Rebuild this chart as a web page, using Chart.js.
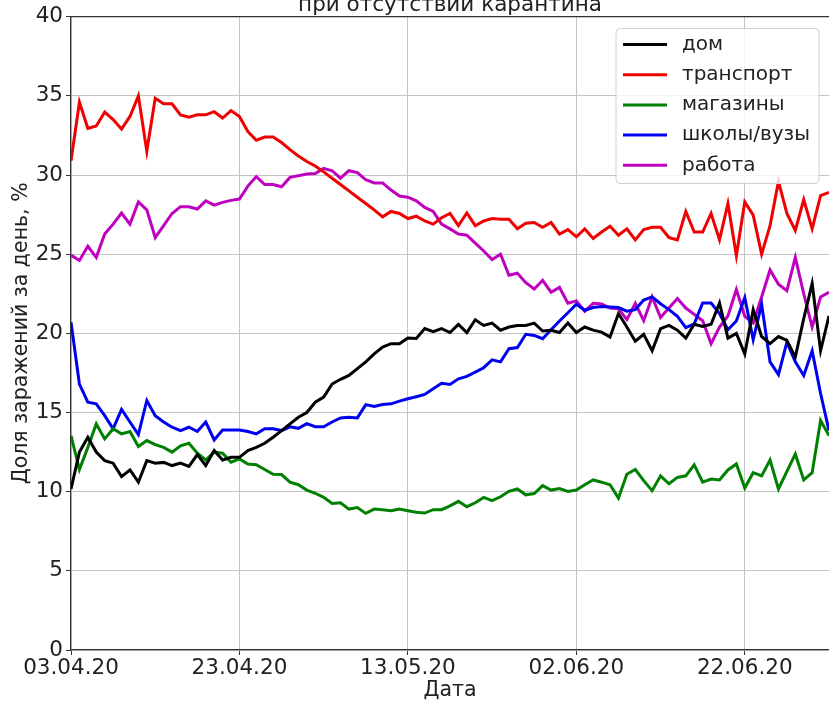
<!DOCTYPE html>
<html lang="ru">
<head>
    <meta charset="UTF-8">
    <title>Доля заражений за день</title>
    <script src="https://cdn.jsdelivr.net/npm/chart.js"></script>
    <style>
        body { margin: 0; background: #fff; }
        #wrap { width: 829px; height: 703px; overflow: hidden; }
    </style>
</head>
<body>
    <div id="wrap">
        <canvas id="infectionChart" width="829" height="703"></canvas>
    </div>

    <script>
        // days since 03.04.20, one value per day
        const tickDays = [0, 20, 40, 60, 80];
        const tickLabels = ['03.04.20', '23.04.20', '13.05.20', '02.06.20', '22.06.20'];
        const seriesNames = ['дом', 'транспорт', 'магазины', 'школы/вузы', 'работа'];

        const home = [10.17, 12.5, 13.44, 12.5, 11.96, 11.8, 10.95, 11.37, 10.6, 11.96,
            11.8, 11.85, 11.65, 11.8, 11.6, 12.34, 11.65, 12.6, 12.0, 12.17,
            12.17, 12.6, 12.8, 13.06, 13.44, 13.86, 14.28, 14.7, 15.0, 15.65,
            15.97, 16.8, 17.1, 17.34, 17.77, 18.2, 18.7, 19.13, 19.35, 19.35,
            19.7, 19.68, 20.3, 20.1, 20.3, 20.05, 20.57, 20.05, 20.86, 20.5,
            20.65, 20.2, 20.4, 20.5, 20.5, 20.65, 20.15, 20.2, 20.05, 20.65,
            20.05, 20.4, 20.2, 20.08, 19.77, 21.25, 20.4, 19.5, 19.94, 18.9,
            20.3, 20.5, 20.2, 19.7, 20.57, 20.44, 20.57, 21.92, 19.7, 20.0,
            18.7, 21.5, 19.8, 19.35, 19.8, 19.56, 18.5, 20.93, 23.15, 18.9, 21.1];

        const transport = [30.9, 34.6, 32.95, 33.1, 33.97, 33.5, 32.9, 33.7, 35.0, 31.5,
            34.85, 34.5, 34.5, 33.8, 33.65, 33.8, 33.8, 34.0, 33.6, 34.07,
            33.7, 32.75, 32.2, 32.4, 32.4, 32.05, 31.6, 31.2, 30.85, 30.57,
            30.2, 29.8, 29.4, 29.0, 28.6, 28.2, 27.8, 27.36, 27.7, 27.57,
            27.25, 27.4, 27.1, 26.9, 27.3, 27.57, 26.8, 27.6, 26.8, 27.1,
            27.25, 27.2, 27.2, 26.6, 26.95, 27.0, 26.7, 27.0, 26.27, 26.55,
            26.1, 26.6, 25.99, 26.4, 26.77, 26.2, 26.6, 25.9, 26.55, 26.7,
            26.7, 26.05, 25.9, 27.7, 26.4, 26.4, 27.57, 25.9, 28.2, 24.9,
            28.3, 27.47, 25.0, 26.8, 29.6, 27.57, 26.5, 28.45, 26.6, 28.7, 28.9];

        const shops = [13.54, 11.4, 12.8, 14.28, 13.33, 13.97, 13.65, 13.8, 12.85, 13.23,
            12.97, 12.8, 12.5, 12.9, 13.06, 12.43, 12.0, 12.5, 12.43, 11.86,
            12.07, 11.75, 11.7, 11.4, 11.1, 11.08, 10.6, 10.44, 10.1, 9.9,
            9.64, 9.26, 9.3, 8.9, 9.0, 8.63, 8.9, 8.86, 8.8, 8.9,
            8.8, 8.7, 8.65, 8.86, 8.86, 9.1, 9.39, 9.05, 9.3, 9.64,
            9.43, 9.68, 10.02, 10.17, 9.8, 9.88, 10.38, 10.1, 10.2, 10.02,
            10.1, 10.44, 10.74, 10.6, 10.44, 9.6, 11.1, 11.4, 10.7, 10.06,
            11.0, 10.5, 10.9, 11.0, 11.7, 10.6, 10.8, 10.74, 11.37, 11.75,
            10.23, 11.2, 11.0, 12.0, 10.17, 11.28, 12.38, 10.74, 11.2, 14.5, 13.54];

        const schools = [20.7, 16.8, 15.65, 15.55, 14.8, 13.97, 15.2, 14.4, 13.6, 15.76,
            14.8, 14.4, 14.07, 13.86, 14.07, 13.8, 14.4, 13.27, 13.9, 13.9,
            13.9, 13.8, 13.65, 13.97, 13.97, 13.86, 14.1, 14.0, 14.3, 14.1,
            14.1, 14.4, 14.66, 14.7, 14.66, 15.5, 15.38, 15.5, 15.55, 15.72,
            15.87, 16.0, 16.14, 16.5, 16.85, 16.77, 17.13, 17.28, 17.55, 17.83,
            18.33, 18.2, 19.03, 19.1, 19.94, 19.87, 19.66, 20.23, 20.78, 21.3,
            21.84, 21.46, 21.63, 21.7, 21.67, 21.63, 21.4, 21.5, 22.1, 22.3,
            21.87, 21.5, 21.08, 20.36, 20.6, 21.92, 21.92, 21.25, 20.23, 20.78,
            22.26, 19.6, 21.84, 18.2, 17.4, 19.45, 18.2, 17.34, 18.9, 16.2, 13.86];

        const work = [24.94, 24.6, 25.5, 24.8, 26.27, 26.9, 27.6, 26.9, 28.3, 27.8,
            26.05, 26.8, 27.57, 28.0, 28.0, 27.85, 28.37, 28.1, 28.27, 28.4,
            28.48, 29.3, 29.9, 29.4, 29.4, 29.26, 29.85, 29.96, 30.06, 30.1,
            30.42, 30.27, 29.8, 30.27, 30.15, 29.7, 29.5, 29.5, 29.05, 28.67,
            28.6, 28.37, 27.95, 27.7, 26.9, 26.6, 26.27, 26.2, 25.7, 25.2,
            24.66, 25.0, 23.67, 23.8, 23.2, 22.8, 23.35, 22.6, 22.9, 21.9,
            22.05, 21.4, 21.9, 21.85, 21.6, 21.56, 20.87, 21.9, 20.8, 22.3,
            21.0, 21.6, 22.2, 21.6, 21.2, 20.8, 19.35, 20.4, 21.1, 22.77,
            21.08, 20.65, 22.3, 24.0, 23.1, 22.7, 24.8, 22.5, 20.4, 22.3, 22.6];

        const colors = ['#000000', '#f00000', '#008000', '#0000f0', '#bf00bf'];
        const allSeries = [home, transport, shops, schools, work];
        const FONT = "'DejaVu Sans', sans-serif";

        // title, top spine and matplotlib-like legend
        const decorPlugin = {
            id: 'decor',
            afterDraw(chart) {
                const ctx = chart.ctx;
                const area = chart.chartArea;
                ctx.save();

                ctx.strokeStyle = '#333';
                ctx.lineWidth = 1.2;
                ctx.beginPath();
                ctx.moveTo(area.left, area.top);
                ctx.lineTo(area.right, area.top);
                ctx.stroke();

                ctx.fillStyle = '#222';
                ctx.font = '21.5px ' + FONT;
                ctx.textAlign = 'center';
                ctx.textBaseline = 'alphabetic';
                ctx.fillText('при отсутствии карантина', (area.left + area.right) / 2, 10.5);

                // legend box
                const bx = 616, by = 28.5, bw = 203, bh = 155, r = 4;
                ctx.beginPath();
                ctx.moveTo(bx + r, by);
                ctx.arcTo(bx + bw, by, bx + bw, by + bh, r);
                ctx.arcTo(bx + bw, by + bh, bx, by + bh, r);
                ctx.arcTo(bx, by + bh, bx, by, r);
                ctx.arcTo(bx, by, bx + bw, by, r);
                ctx.closePath();
                ctx.fillStyle = 'rgba(255,255,255,0.8)';
                ctx.fill();
                ctx.strokeStyle = '#d0d0d0';
                ctx.lineWidth = 1;
                ctx.stroke();

                ctx.font = '20px ' + FONT;
                ctx.textAlign = 'left';
                ctx.textBaseline = 'middle';
                chart.data.datasets.forEach((ds, i) => {
                    const y = 44.5 + i * 30.2;
                    ctx.strokeStyle = ds.borderColor;
                    ctx.lineWidth = 3;
                    ctx.beginPath();
                    ctx.moveTo(623, y);
                    ctx.lineTo(667, y);
                    ctx.stroke();
                    ctx.fillStyle = '#222';
                    ctx.fillText(ds.label, 682, y);
                });
                ctx.restore();
            }
        };

        const ctx = document.getElementById('infectionChart').getContext('2d');
        new Chart(ctx, {
            type: 'line',
            data: {
                datasets: allSeries.map((values, i) => ({
                    label: seriesNames[i],
                    data: values.map((v, d) => ({ x: d, y: v })),
                    borderColor: colors[i],
                    backgroundColor: colors[i],
                    borderWidth: 3,
                    pointRadius: 0,
                    tension: 0,
                    fill: false
                }))
            },
            options: {
                responsive: false,
                animation: false,
                layout: { padding: { top: 16.7, right: 0, bottom: 0, left: 0 } },
                plugins: {
                    legend: { display: false },
                    title: { display: false },
                    tooltip: { enabled: false }
                },
                scales: {
                    x: {
                        type: 'linear',
                        min: 0,
                        max: 90,
                        afterFit(scale) { scale.height = 53; },
                        afterBuildTicks(scale) {
                            scale.ticks = tickDays.map(v => ({ value: v }));
                        },
                        ticks: {
                            autoSkip: false,
                            maxRotation: 0,
                            padding: 1,
                            color: '#222',
                            font: { family: FONT, size: 21.5 },
                            callback: (value) => tickLabels[tickDays.indexOf(value)]
                        },
                        grid: { color: '#c4c4c4', lineWidth: 1, tickLength: 5, tickColor: '#333' },
                        border: { color: '#333', width: 1.2 },
                        title: {
                            display: true,
                            text: 'Дата',
                            color: '#222',
                            font: { family: FONT, size: 20.5 },
                            padding: { top: 0, bottom: 0 }
                        }
                    },
                    y: {
                        min: 0,
                        max: 40,
                        afterFit(scale) { scale.width = 71; },
                        ticks: {
                            stepSize: 5,
                            padding: 3,
                            color: '#222',
                            font: { family: FONT, size: 21.5 }
                        },
                        grid: { color: '#c4c4c4', lineWidth: 1, tickLength: 5, tickColor: '#333' },
                        border: { color: '#333', width: 1.2 },
                        title: {
                            display: true,
                            text: 'Доля заражений за день, %',
                            color: '#222',
                            font: { family: FONT, size: 20.5 },
                            padding: { top: 9.5, bottom: 0 }
                        }
                    }
                }
            },
            plugins: [decorPlugin]
        });
    </script>
</body>
</html>
